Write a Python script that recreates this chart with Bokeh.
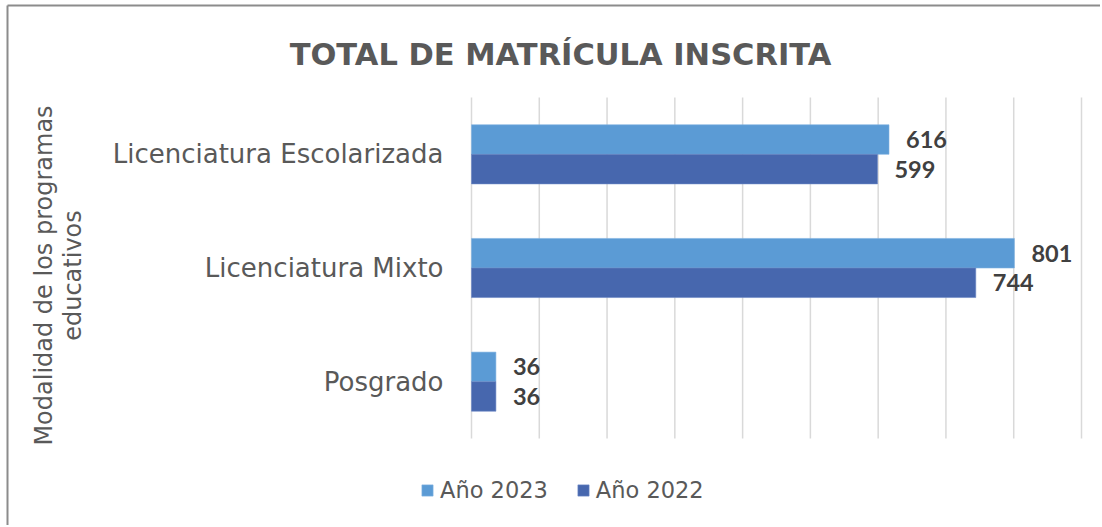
import math
from bokeh.plotting import figure
from bokeh.models import ColumnDataSource, Range1d, LabelSet, Label, Legend, LegendItem
from bokeh.core.properties import value
from bokeh.embed import file_html
from bokeh.resources import INLINE

# ---- data ----
categories = ["Licenciatura Escolarizada", "Licenciatura Mixto", "Posgrado"]
anio_2023 = [616, 801, 36]
anio_2022 = [599, 744, 36]
series_names = ["Año 2023", "Año 2022"]
x_ticks = [0, 100, 200, 300, 400, 500, 600, 700, 800, 900]
title_text = "TOTAL DE MATRÍCULA INSCRITA"
ylabel_lines = ["Modalidad de los programas", "educativos"]

# ---- layout (pixels) ----
W, H = 1100, 525
PL, PR, PT, PB = 471, 1081, 97, 438          # plotting area
XMAX = x_ticks[-1]
NCAT = len(categories)
KX = (PR - PL) / XMAX                        # px per unit
KY = (PB - PT) / NCAT                        # px per category band


def px2x(px):
    return (px - PL) / KX


def px2y(py):
    return (PB - py) / KY


C23 = "#5B9BD5"
C22 = "#4767AE"
GRAY = "#595959"
FONT = "DejaVu Sans"

ypos = [NCAT - i - 0.5 for i in range(NCAT)]
src = ColumnDataSource(dict(cat=categories, ypos=ypos,
                            y23pos=[y + 0.13 for y in ypos], y22pos=[y - 0.13 for y in ypos],
                            v23=anio_2023, v22=anio_2022,
                            l23=[str(v) for v in anio_2023], l22=[str(v) for v in anio_2022]))

p = figure(width=W, height=H, output_backend="svg", toolbar_location=None,
           x_range=Range1d(px2x(0), px2x(W)), y_range=Range1d(px2y(H), px2y(0)),
           x_axis_type=None, y_axis_type=None,
           min_border=0, min_border_left=0, min_border_right=0,
           min_border_top=0, min_border_bottom=0)
p.outline_line_color = None
p.background_fill_color = "white"
p.border_fill_color = "white"

# chart border (left and top edges visible in the reference)
p.segment(x0=[px2x(7), px2x(7)], y0=[px2y(5), px2y(5)],
          x1=[px2x(7), px2x(W)], y1=[px2y(H), px2y(5)],
          line_color="#8c8c8c", line_width=2)

# vertical gridlines
p.segment(x0=x_ticks, y0=[0] * len(x_ticks), x1=x_ticks, y1=[NCAT] * len(x_ticks),
          line_color="#d9d9d9", line_width=1.5)

r23 = p.hbar(y="y23pos", right="v23", left=0, height=0.26, source=src,
             fill_color=C23, line_color="#7fb2e0", line_width=0.6)
r22 = p.hbar(y="y22pos", right="v22", left=0, height=0.26, source=src,
             fill_color=C22, line_color="#6a86c4", line_width=0.6)

# value labels
for col, lab, ycol in (("v23", "l23", "y23pos"), ("v22", "l22", "y22pos")):
    p.add_layout(LabelSet(x=col, y=ycol, text=lab, source=src,
                          x_offset=17, text_baseline="middle", text_align="left",
                          text_font=value("Lato"), text_font_style="bold",
                          text_font_size="23.5px", text_color="#404040"))

# category labels
p.add_layout(LabelSet(x=0, y="ypos", text="cat", source=src, x_offset=-28,
                      text_align="right", text_baseline="middle",
                      text_font=value(FONT), text_font_size="26px", text_color=GRAY))

# title
p.add_layout(Label(x=px2x(560), y=px2y(54), text=title_text,
                   text_align="center", text_baseline="alphabetic",
                   text_font=FONT, text_font_style="bold", text_font_size="30.5px",
                   text_color=GRAY))

# axis title (two lines, rotated)
for txt, cx in zip(ylabel_lines, (43, 72)):
    p.add_layout(Label(x=px2x(cx), y=px2y(275), text=txt, angle=math.pi / 2,
                       text_align="center", text_baseline="middle",
                       text_font=FONT, text_font_size="24px", text_color=GRAY))

legend = Legend(items=[LegendItem(label=series_names[0], renderers=[r23]),
                       LegendItem(label=series_names[1], renderers=[r22])],
                orientation="horizontal", location=(420, H - 503),
                padding=0, margin=0, spacing=28, label_standoff=6,
                glyph_width=14, glyph_height=14, label_height=24,
                label_text_font=FONT, label_text_font_size="22.5px",
                label_text_color=GRAY, border_line_color=None, background_fill_alpha=0)
p.add_layout(legend, "center")

open("out.html", "w").write(file_html(p, INLINE))
